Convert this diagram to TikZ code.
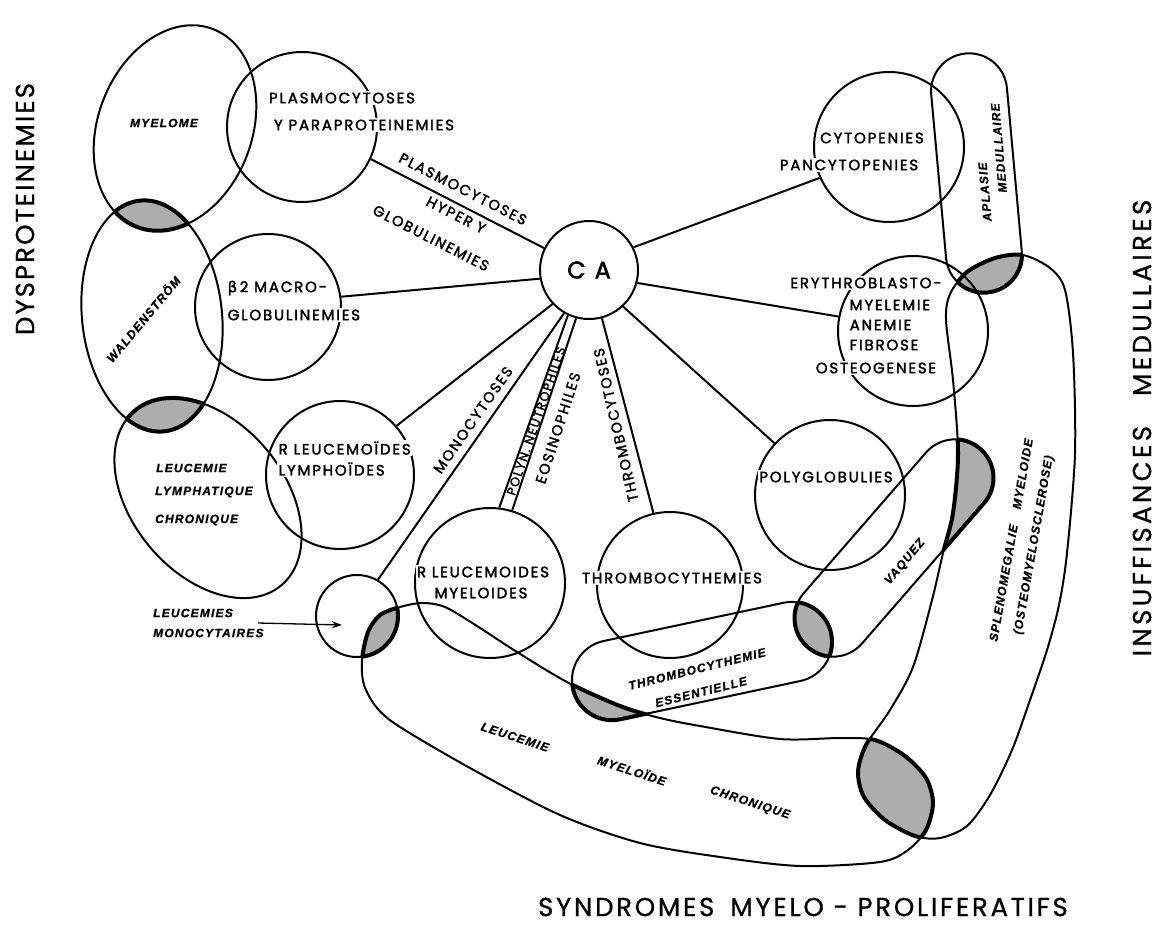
\documentclass[tikz,border=0pt]{standalone}
\usepackage{fontspec}
\usetikzlibrary{arrows.meta}
\newfontfamily\capf{Poppins}[LetterSpace=12,FakeBold=2]
\newfontfamily\bigf{Poppins}[LetterSpace=8,FakeBold=0.8]
\newfontfamily\bigfw{Poppins}[LetterSpace=13,FakeBold=0.8]
\newfontfamily\bigfm{Poppins}[LetterSpace=10.5,FakeBold=0.8]
\newfontfamily\itf{Liberation Sans}[LetterSpace=10,FakeBold=1]
\newfontfamily\grk{DejaVu Sans}[FakeBold=1.5]
\def\myelP{(175,128) ellipse [x radius=77, y radius=106, rotate=-21]}
\def\waldP{(152,316) ellipse [x radius=70, y radius=116, rotate=6]}
\def\llcP{(208,498) ellipse [x radius=114, y radius=76, rotate=-50]}
\def\smallP{(357,616) circle [radius=41]}
\def\aplP{(938.5,53) rectangle (1014.5,293)}
\def\vaqP{(762.6,509.5) rectangle (1025.4,586.5)}
\def\teP{(570,621) rectangle (834,701)}
\def\splP{plot[smooth cycle] coordinates {(1023,255) (1050,268) (1065,290) (1073,353) (1075,453) (1067,553) (1059,605) (1047,650) (1030,700) (1012,750) (990,795) (967,826) (940,838) (915,836) (885,820) (864,797) (858,772) (866,745) (890,710) (913,667) (932,600) (943,553) (953,513) (958,453) (953,380) (946,320) (950,294) (967,272) (995,258)}}
\def\lmcP{plot[smooth cycle] coordinates {(380,615) (400,607) (422,603) (445,607) (477,626) (517,652) (567,682) (620,706) (660,718) (700,726) (780,739) (840,738) (875,740) (905,756) (926,778) (933,803) (926,830) (908,850) (880,862) (800,866) (720,857) (640,843) (560,815) (470,768) (400,727) (377,708) (364,685) (362,660) (368,632)}}
\newcommand\lensborder[4]{%
  \begin{scope}\clip[#1] #2; \draw[lensb,#3] #4;\end{scope}%
  \begin{scope}\clip[#3] #4; \draw[lensb,#1] #2;\end{scope}}
\begin{document}
\begin{tikzpicture}[x=1pt,y=-1pt,
  ln/.style={line width=2pt},
  circ/.style={circle,draw,line width=2pt,inner sep=0pt},
  lab/.style={font=\capf\fontsize{15}{17}\selectfont,inner sep=1.5pt,fill=white},
  rlab/.style={font=\capf\fontsize{14.5}{16}\selectfont,inner sep=0pt},
  ital/.style={font=\itf\bfseries\itshape\fontsize{12}{14}\selectfont,inner sep=0pt},
  bigl/.style={font=\bigf\fontsize{26}{30}\selectfont,inner sep=0pt},
  bigw/.style={font=\bigfw\fontsize{26}{30}\selectfont,inner sep=0pt},
  bigm/.style={font=\bigfm\fontsize{26}{30}\selectfont,inner sep=0pt},
  lens/.style={fill=black!32},
  lensb/.style={line width=4pt},
  plainT/.style={},
  aplT/.style={rotate around={5.2:(976.5,173)},rounded corners=37.9},
  vaqT/.style={rotate around={49:(894,548)},rounded corners=38.4},
  teT/.style={rotate around={12:(702,661)},rounded corners=39.9}]
\fill[white] (0,0) rectangle (1164,924);
\useasboundingbox (0,0) rectangle (1164,924);
% shaded lenses
\begin{scope}\clip \myelP; \fill[lens] \waldP; \end{scope}
\begin{scope}\clip \waldP; \fill[lens] \llcP; \end{scope}
\begin{scope}\clip[aplT] \aplP; \fill[lens] \splP; \end{scope}
\begin{scope}\clip[vaqT] \vaqP; \fill[lens] \splP; \end{scope}
\begin{scope}\clip[vaqT] \vaqP; \fill[lens,teT] \teP; \end{scope}
\begin{scope}\clip[teT] \teP; \fill[lens] \lmcP; \end{scope}
\begin{scope}\clip \splP; \fill[lens] \lmcP; \end{scope}
\begin{scope}\clip \smallP; \fill[lens] \lmcP; \end{scope}
% outlines of groups
\draw[ln] \myelP;
\draw[ln] \waldP;
\draw[ln] \llcP;
\draw[ln,aplT] \aplP;
\draw[ln,vaqT] \vaqP;
\draw[ln,teT] \teP;
\draw[ln] \splP;
\draw[ln] \lmcP;
% circles
\node[circ,minimum size=98] (CA) at (589,270) {};
\node[circ,minimum size=150] (plasmo) at (302,127) {};
\node[circ,minimum size=146] (beta) at (268,307) {};
\node[circ,minimum size=148] (rll) at (340,475) {};
\node[circ,minimum size=82] (small) at (357,616) {};
\node[circ,minimum size=150] (rlm) at (490,583) {};
\node[circ,minimum size=146] (tc) at (670,585) {};
\node[circ,minimum size=150] (pg) at (830,495) {};
\node[circ,minimum size=150] (cyto) at (889,147) {};
\node[circ,minimum size=150] (ery) at (913,331) {};
% lens borders
\lensborder{plainT}{\myelP}{plainT}{\waldP}
\lensborder{plainT}{\waldP}{plainT}{\llcP}
\lensborder{aplT}{\aplP}{plainT}{\splP}
\lensborder{vaqT}{\vaqP}{plainT}{\splP}
\lensborder{vaqT}{\vaqP}{teT}{\teP}
\lensborder{teT}{\teP}{plainT}{\lmcP}
\lensborder{plainT}{\splP}{plainT}{\lmcP}
\lensborder{plainT}{\smallP}{plainT}{\lmcP}
% connectors
\draw[ln] (CA.154) -- (plasmo.-25);
\draw[ln] (CA.190) -- (beta.8);
\draw[ln] (CA.223) -- (rll.41);
\draw[ln] (CA.240) -- (small.60);
\draw[ln] (CA.245) -- (rlm.83);
\draw[ln] (CA.255) -- (rlm.73);
\draw[ln] (CA.285) -- (tc.103);
\draw[ln] (CA.-47) -- (pg.137);
\draw[ln] (CA.-15) -- (ery.169);
\draw[ln] (CA.27) -- (cyto.204);
\coordinate (arrS) at (258,623);
\coordinate (arrE) at (342,625);
\draw[line width=1.3pt,-{Stealth[length=10pt,width=7pt]}] (arrS) -- (arrE);
% circle texts
\node[font=\capf\fontsize{24}{26}\selectfont,inner sep=0pt] at (CA) {C\hspace{9pt}A};
\node[lab] (t1) at (342,98) {PLASMOCYTOSES};
\node[lab] (t2) at (364,125) {Y PARAPROTEINEMIES};
\node[lab,anchor=west] (t3) at (226,288) {{\grk β}\,2 MACRO-};
\node[lab,anchor=west] (t4) at (226,315) {GLOBULINEMIES};
\node[lab,anchor=west] (t5) at (277,448) {R LEUCEMOÏDES};
\node[lab,anchor=west] (t6) at (277,469) {LYMPHOÏDES};
\node[lab] (t7) at (483,572) {R LEUCEMOIDES};
\node[lab] (t8) at (481,593) {MYELOIDES};
\node[lab] (t9) at (672,578) {THROMBOCYTHEMIES};
\node[lab] (t10) at (826,477) {POLYGLOBULIES};
\node[lab] (t11) at (872,138) {CYTOPENIES};
\node[lab] (t12) at (849,165) {PANCYTOPENIES};
\node[lab] (t13) at (866,283) {ERYTHROBLASTO-};
\node[lab,anchor=west] (t14) at (848,305) {MYELEMIE};
\node[lab,anchor=west] (t15) at (848,325) {ANEMIE};
\node[lab,anchor=west] (t16) at (848,345) {FIBROSE};
\node[lab] (t17) at (876,368) {OSTEOGENESE};
% connector labels
\node[rlab,rotate=-27] at (463,189) {PLASMOCYTOSES};
\node[rlab,rotate=-27] at (456,215) {HYPER Y};
\node[rlab,rotate=-27] at (431,238) {GLOBULINEMIES};
\node[rlab,rotate=55] at (473,420) {MONOCYTOSES};
\node[rlab,rotate=71,font=\capf\fontsize{12.5}{14}\selectfont] at (536,421) {POLYN. NEUTROPHILES};
\node[rlab,rotate=72] at (558,428) {EOSINOPHILES};
\node[rlab,rotate=103] at (616,425) {THROMBOCYTOSES};
% italic group labels
\node[ital] at (164,123) {MYELOME};
\node[ital,rotate=50] at (143,319) {WALDENSTRÖM};
\node[ital,anchor=west] at (156,468) {LEUCEMIE};
\node[ital,anchor=west] at (155,492) {LYMPHATIQUE};
\node[ital,anchor=west] at (155,520) {CHRONIQUE};
\node[ital,anchor=west] at (153,613) {LEUCEMIES};
\node[ital,anchor=west] at (153,633) {MONOCYTAIRES};
\node[ital,rotate=95] at (985,192) {APLASIE};
\node[ital,rotate=95] at (999,148) {MEDULLAIRE};
\node[ital,rotate=50] at (905,562) {VAQUEZ};
\node[ital,rotate=14] at (697,669) {THROMBOCYTHEMIE};
\node[ital,rotate=14] at (701,692) {ESSENTIELLE};
\node[ital,rotate=-18] at (515,737) {LEUCEMIE};
\node[ital,rotate=-18] at (632,770) {MYELOÏDE};
\node[ital,rotate=-18] at (750,803) {CHRONIQUE};
\node[ital,rotate=80] at (1011,540) {SPLENOMEGALIE\hspace{16pt}MYELOIDE};
\node[ital,rotate=80] at (1034,545) {(OSTEOMYELOSCLEROSE)};
% big labels
\node[bigl,rotate=90] at (25,209) {DYSPROTEINEMIES};
\node[bigw,rotate=90] at (1142,428) {INSUFFISANCES\hspace{30pt}MEDULLAIRES};
\node[bigm] at (803,907) {SYNDROMES\hspace{16pt}MYELO - PROLIFERATIFS};
\end{tikzpicture}
\end{document}
